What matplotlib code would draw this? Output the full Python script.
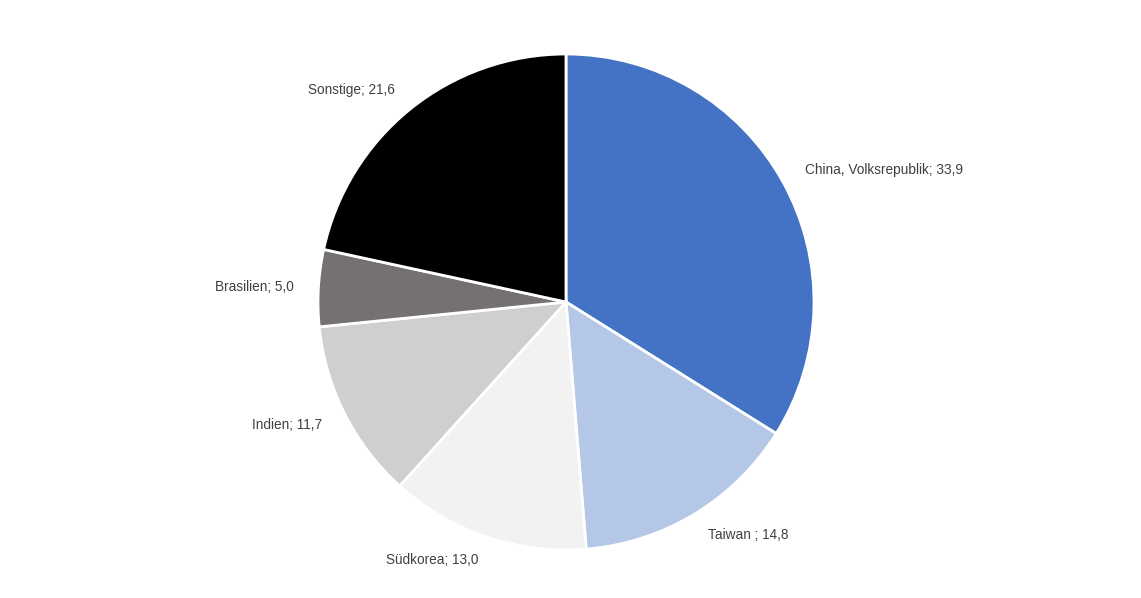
import matplotlib
matplotlib.use("Agg")
import matplotlib.pyplot as plt

labels = ["China, Volksrepublik", "Taiwan ", "Südkorea", "Indien", "Brasilien", "Sonstige"]
values = [33.9, 14.8, 13.0, 11.7, 5.0, 21.6]
colors = ["#4472C4", "#B4C7E7", "#F2F2F2", "#D0CECE", "#767171", "#000000"]

plt.rcParams['font.family'] = ['Liberation Sans', 'DejaVu Sans']

fig = plt.figure(figsize=(11.41, 5.98), dpi=100)
# pie centre at (566, 302) px, radius 248 px
ax = fig.add_axes([(566 - 248) / 1141, (296 - 248) / 598, 496 / 1141, 496 / 598])

texts = [f"{l}; {str(v).replace('.', ',')}" for l, v in zip(labels, values)]
wedges, txt = ax.pie(values, labels=texts, colors=colors, startangle=90, counterclock=False,
                     labeldistance=1.1,
                     wedgeprops=dict(edgecolor="white", linewidth=2),
                     textprops=dict(fontsize=9.8, color="#404040"))
ax.set_xlim(-1, 1)
ax.set_ylim(-1, 1)
ax.set_aspect("auto")

plt.savefig("out.png", dpi=100)
